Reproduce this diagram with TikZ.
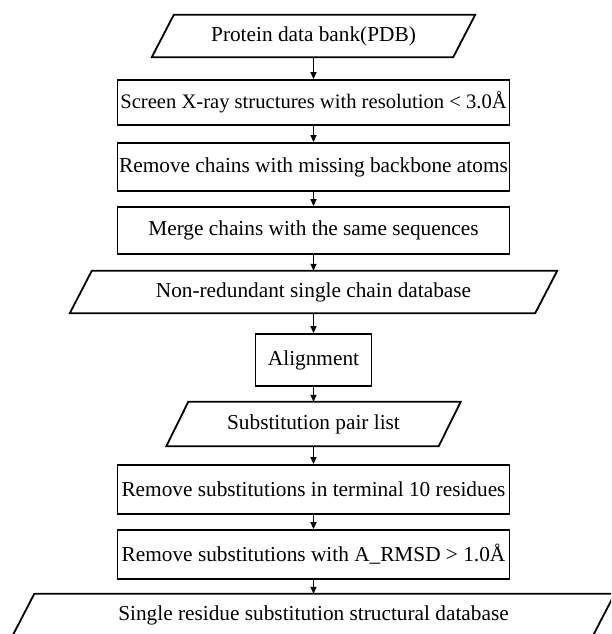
\documentclass[tikz,border=0pt]{standalone}
\usepackage{fontspec}
\setmainfont{Liberation Serif}
\usetikzlibrary{arrows.meta}
\begin{document}
\begin{tikzpicture}[x=1pt,y=-1pt,
  txt/.style={font=\fontsize{21.3}{24}\selectfont, inner sep=0pt},
  box/.style={txt, draw, line width=1.8pt, rectangle, minimum width=392pt},
  io/.style={txt, draw=none, rectangle, minimum height=42pt},
  ioshape/.style={line width=1.8pt},
  link/.style={-{Triangle[length=7pt,width=6pt]}, line width=1.4pt}]
\useasboundingbox (0,0) rectangle (611,634);
\clip (0,0) rectangle (611,634);
\fill[white] (0,0) rectangle (611,634);

\node[io, minimum width=301pt] (p1) at (313.5,36) {Protein data bank(PDB)};
\node[box, minimum height=45pt, font=\fontsize{20.6}{24}\selectfont] (b2) at (313.5,102.5) {Screen X-ray structures with resolution < 3.0Å};
\node[box, minimum height=48pt] (b3) at (313.5,167) {Remove chains with missing backbone atoms};
\node[box, minimum height=47pt] (b4) at (313.5,230.5) {Merge chains with the same sequences};
\node[io, minimum width=465pt] (p5) at (313.5,292) {Non-redundant single chain database};
\node[box, minimum width=116pt, minimum height=52pt] (b6) at (313.5,360) {Alignment};
\node[io, minimum width=272pt, minimum height=44pt] (p7) at (313.5,424) {Substitution pair list};
\node[box, minimum height=49pt] (b8) at (313.5,489.5) {Remove substitutions in terminal 10 residues};
\node[box, minimum height=49pt] (b9) at (313.5,554.5) {Remove substitutions with A\_RMSD > 1.0Å};
\node[io, minimum width=580pt] (p10) at (313.5,615) {Single residue substitution structural database};

\foreach \n in {p1,p5,p7,p10}
  \draw[ioshape] ([xshift=11pt]\n.north west) -- ([xshift=11pt]\n.north east)
    -- ([xshift=-11pt]\n.south east) -- ([xshift=-11pt]\n.south west) -- cycle;

\draw[link] (p1.south) -- (b2.north);
\draw[link] (b2.south) -- (b3.north);
\draw[link] (b3.south) -- (b4.north);
\draw[link] (b4.south) -- (p5.north);
\draw[link] (p5.south) -- (b6.north);
\draw[link] (b6.south) -- (p7.north);
\draw[link] (p7.south) -- (b8.north);
\draw[link] (b8.south) -- (b9.north);
\draw[link] (b9.south) -- (p10.north);
\end{tikzpicture}
\end{document}
